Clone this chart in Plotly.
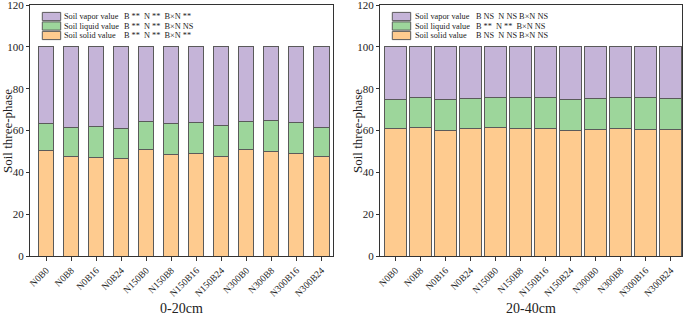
import plotly.graph_objects as go

categories = ["N0B0", "N0B8", "N0B16", "N0B24", "N150B0", "N150B8", "N150B16",
              "N150B24", "N300B0", "N300B8", "N300B16", "N300B24"]

# 0-20 cm (boundaries -> layer values)
solid_0_20 = [50.3, 47.4, 46.9, 46.7, 50.7, 48.3, 48.8, 47.8, 50.7, 49.8, 48.8, 47.4]
liquid_top_0_20 = [63.2, 61.4, 61.9, 60.8, 64.2, 63.2, 64.0, 62.2, 64.2, 64.6, 63.7, 61.4]
# 20-40 cm
solid_20_40 = [60.8, 61.3, 59.9, 60.8, 61.3, 60.8, 60.8, 60.2, 60.3, 60.8, 60.3, 60.3]
liquid_top_20_40 = [74.9, 75.7, 74.9, 75.3, 75.7, 76.0, 75.7, 74.8, 75.3, 76.0, 75.6, 75.5]

liquid_0_20 = [round(t - s, 2) for t, s in zip(liquid_top_0_20, solid_0_20)]
vapor_0_20 = [round(100 - t, 2) for t in liquid_top_0_20]
liquid_20_40 = [round(t - s, 2) for t, s in zip(liquid_top_20_40, solid_20_40)]
vapor_20_40 = [round(100 - t, 2) for t in liquid_top_20_40]

series_names = ["Soil vapor value", "Soil liquid value", "Soil solid value"]
stats_0_20 = ["B **  N **  B×N **", "B **  N **  B×N NS", "B **  N **  B×N **"]
stats_20_40 = ["B NS  N NS B×N NS", "B **  N **  B×N NS", "B NS  N NS B×N NS"]
panel_titles = ["0-20cm", "20-40cm"]
y_title = "Soil three-phase"
y_ticks = [0, 20, 40, 60, 80, 100, 120]

C_SOLID = "#fecb8f"
C_LIQ = "#9dd69b"
C_VAP = "#c5b4d8"
OUT = "#5a5a5a"
FONT = "Liberation Serif"

W, H = 685, 316
fig = go.Figure()

panels = [
    dict(solid=solid_0_20, liquid=liquid_0_20, vapor=vapor_0_20, xa="x", ya="y",
         dom=[30 / W, 333 / W], width=0.6, rng=[-0.65, 11.46], stats=stats_0_20),
    dict(solid=solid_20_40, liquid=liquid_20_40, vapor=vapor_20_40, xa="x2", ya="y2",
         dom=[380 / W, 682 / W], width=0.88, rng=[-0.62, 11.45], stats=stats_20_40),
]

ydom = [60 / H, 311 / H]

for p in panels:
    for vals, col in [(p["solid"], C_SOLID), (p["liquid"], C_LIQ), (p["vapor"], C_VAP)]:
        fig.add_trace(go.Bar(x=categories, y=vals, xaxis=p["xa"], yaxis=p["ya"],
                             width=p["width"],
                             marker=dict(color=col, line=dict(color=OUT, width=1)),
                             showlegend=False, hoverinfo="skip"))

common_x = dict(type="category", showline=True, linecolor="#333", linewidth=1.3,
                mirror=True, ticks="outside", ticklen=4, tickcolor="#333",
                tickangle=-45, tickfont=dict(family=FONT, size=9.5, color="#222"),
                showgrid=False, zeroline=False, automargin=False,
                ticklabeloverflow="allow")
common_y = dict(range=[0, 120], tickvals=y_ticks, showline=True, linecolor="#333",
                linewidth=1.3, mirror=True, ticks="outside", ticklen=3, tickcolor="#333",
                tickfont=dict(family=FONT, size=11, color="#222"), showgrid=False,
                zeroline=False, domain=ydom, automargin=False,
                ticklabeloverflow="allow")

fig.update_layout(
    width=W, height=H, margin=dict(l=0, r=0, t=0, b=0),
    paper_bgcolor="white", plot_bgcolor="white", barmode="stack", showlegend=False,
    xaxis=dict(common_x, domain=panels[0]["dom"], range=panels[0]["rng"], anchor="y"),
    yaxis=dict(common_y, anchor="x"),
    xaxis2=dict(common_x, domain=panels[1]["dom"], range=panels[1]["rng"], anchor="y2"),
    yaxis2=dict(common_y, anchor="x2"),
)

shapes = []
annotations = []
row_y = [16.5, 26.0, 35.5]
cols = [C_VAP, C_LIQ, C_SOLID]
leg_x = [(42.3, 62.3, 121.7), (392.3, 412.7, 474.3)]
ytitle_x = [7, 357]
for pi, p in enumerate(panels):
    sx, tx, stx = leg_x[pi]
    for r in range(3):
        yc = row_y[r]
        shapes.append(dict(type="rect", xref="paper", yref="paper",
                           x0=sx / W, x1=(sx + 18.4) / W,
                           y0=(H - (yc + 4.1)) / H, y1=(H - (yc - 4.1)) / H,
                           fillcolor=cols[r], line=dict(color=OUT, width=1)))
        annotations.append(dict(xref="paper", yref="paper", x=tx / W, y=(H - yc) / H,
                                xanchor="left", yanchor="middle", showarrow=False,
                                text=series_names[r],
                                font=dict(family=FONT, size=8.3, color="#222")))
        annotations.append(dict(xref="paper", yref="paper", x=stx / W, y=(H - yc) / H,
                                xanchor="left", yanchor="middle", showarrow=False,
                                text=p["stats"][r],
                                font=dict(family=FONT, size=8.3, color="#222")))
    annotations.append(dict(xref="paper", yref="paper",
                            x=(p["dom"][0] + p["dom"][1]) / 2, y=(H - 308) / H,
                            xanchor="center", yanchor="middle", showarrow=False,
                            text=panel_titles[pi],
                            font=dict(family=FONT, size=14, color="#222")))
    annotations.append(dict(xref="paper", yref="paper", x=ytitle_x[pi] / W,
                            y=(H - 131) / H, xanchor="center", yanchor="middle",
                            showarrow=False, textangle=-90, text=y_title,
                            font=dict(family=FONT, size=13, color="#222")))

fig.update_layout(shapes=shapes, annotations=annotations)
fig.write_html("out.html", config={"displayModeBar": False},
               post_script="document.body.style.margin='0';document.body.style.overflow='hidden';")
